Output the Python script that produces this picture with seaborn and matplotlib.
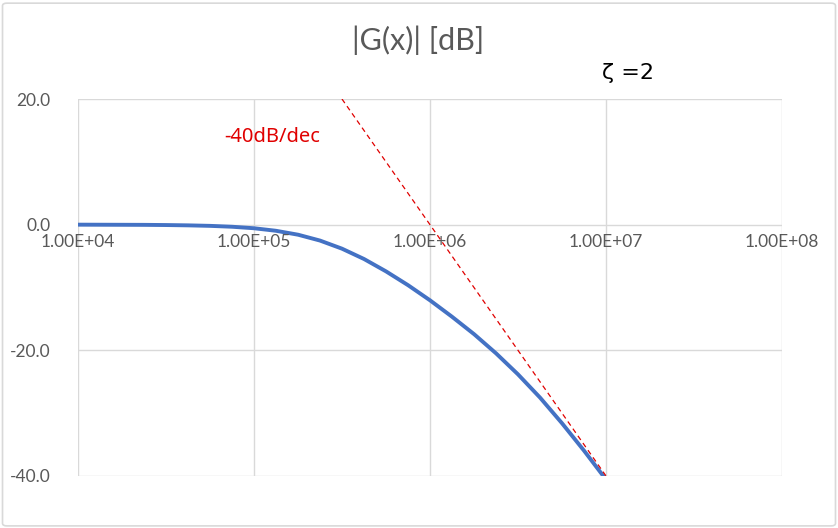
import numpy as np
import pandas as pd
import matplotlib.pyplot as plt
import seaborn as sns
from matplotlib.patches import FancyBboxPatch

# frequency x and |G(x)| in dB (zeta = 2)
freq = [1.00e4, 1.33e4, 1.78e4, 2.37e4, 3.16e4, 4.22e4, 5.62e4, 7.50e4,
        1.00e5, 1.33e5, 1.78e5, 2.37e5, 3.16e5, 4.22e5, 5.62e5, 7.50e5,
        1.00e6, 1.33e6, 1.78e6, 2.37e6, 3.16e6, 4.22e6, 5.62e6, 7.50e6, 1.00e7]
gain_db = [0.0, -0.01, -0.02, -0.03, -0.06, -0.11, -0.19, -0.33,
           -0.57, -0.97, -1.60, -2.53, -3.82, -5.47, -7.43, -9.63,
           -12.04, -14.63, -17.43, -20.47, -23.82, -27.53, -31.60, -35.97, -40.57]

# -40 dB/dec asymptote end points
asym_x = [3.16e5, 1.00e7]
asym_db = [20.0, -40.0]

xticks = [1e4, 1e5, 1e6, 1e7, 1e8]
xtick_labels = ["1.00E+04", "1.00E+05", "1.00E+06", "1.00E+07", "1.00E+08"]
yticks = [-40, -20, 0, 20]

sns.set_style("white")
plt.rcParams['font.family'] = ['Lato', 'DejaVu Sans']

fig = plt.figure(figsize=(8.38, 5.28), dpi=100)
ax = fig.add_axes([0.0931, 0.0985, 0.8401, 0.714])

df = pd.DataFrame({"x": freq, "y": gain_db})
sns.lineplot(data=df, x="x", y="y", ax=ax, color="#4472c4", linewidth=2.8, zorder=3)
ax.plot(asym_x, asym_db, color="#e00000", linestyle=(0, (4, 3)), linewidth=0.9, zorder=4)

ax.set_xscale("log")
ax.set_xlim(1e4, 1e8)
ax.set_ylim(-40, 20)
ax.set_yticks(yticks)
ax.set_yticklabels([f"{v:.1f}" for v in yticks])
ax.set_xticks(xticks)
ax.set_xticks([], minor=True)
ax.set_xticklabels([])
ax.set_xlabel("")
ax.set_ylabel("")

for s in ax.spines.values():
    s.set_visible(False)
ax.grid(True, color="#d9d9d9", linewidth=1.0)
ax.set_axisbelow(True)
ax.tick_params(axis="both", length=0, labelsize=12.5, labelcolor="#595959")
ax.tick_params(axis="y", pad=20)

# x labels sit under the 0 dB line
for xv, lab in zip(xticks, xtick_labels):
    ax.text(xv, -1.5, lab, ha="center", va="top", fontsize=12.5, color="#595959")

fig.text(0.499, 0.924, "|G(x)| [dB]", ha="center", va="center", fontsize=22, color="#595959")
fig.text(0.749, 0.862, "ζ =2", ha="center", va="center", fontsize=16, color="black",
         family=['DejaVu Sans'])
ax.text(1.27e5, 14.0, "-40dB/dec", ha="center", va="center", fontsize=14.5, color="#e00000",
        family=['Noto Sans', 'DejaVu Sans'])

fig.patches.append(FancyBboxPatch((0.003, 0.004), 0.994, 0.99, boxstyle="round,pad=0,rounding_size=0.005",
                                  transform=fig.transFigure, fill=False, edgecolor="#d9d9d9", linewidth=1.2))

fig.savefig("out.png", dpi=100)
